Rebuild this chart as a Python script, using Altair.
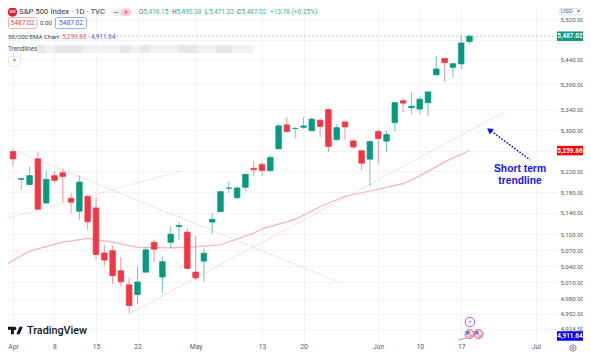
import altair as alt
import pandas as pd

days = list(range(-1, 56))
opens = [5248.03,
 5257.97,5204.29,5194.37,5244.05,5158.95,5211.37,5217.03,5167.88,5143.30,5171.51,
 5149.67,5064.59,5068.97,5031.52,5005.44,4987.33,5028.85,5084.65,5019.88,5084.65,
 5114.13,5103.78,
 5029.03,5049.32,5122.78,5142.42,5187.20,5168.98,5189.03,5225.49,
 5233.08,5221.10,5263.26,5310.07,5303.10,
 5305.35,5298.69,5319.28,5340.26,5281.45,
 5315.91,5278.73,5259.77,5243.21,
 5297.15,5278.24,5314.48,5357.80,5343.81,
 5341.22,5353.82,5409.13,5441.93,5424.08,
 5431.11,5476.15]
highs = [5264.85,
 5263.95,5208.34,5228.75,5256.59,5222.18,5219.57,5224.81,5178.43,5211.78,5175.03,
 5168.43,5079.84,5077.96,5056.66,5019.02,5038.84,5076.12,5089.48,5057.75,5114.62,
 5123.49,5110.83,
 5096.12,5073.21,5139.12,5181.00,5200.23,5191.95,5214.53,5239.66,
 5237.26,5250.37,5311.76,5325.49,5305.45,
 5325.32,5324.32,5323.18,5341.88,5311.65,
 5315.91,5282.26,5260.21,5280.33,
 5302.11,5298.80,5354.16,5362.35,5375.08,
 5365.79,5375.95,5447.25,5441.93,5432.39,
 5488.50,5490.38]
lows = [5245.82,
 5229.20,5184.05,5194.37,5146.06,5157.21,5197.35,5160.78,5138.70,5127.18,5107.94,
 5052.47,5039.83,5007.25,5001.89,4953.56,4969.40,5027.96,5047.02,4990.58,5073.14,
 5088.65,5035.31,
 5013.45,5011.05,5101.22,5142.42,5178.96,5165.86,5182.23,5209.68,
 5211.16,5217.98,5263.26,5296.19,5283.59,
 5302.40,5298.69,5286.01,5256.93,5278.39,
 5280.89,5262.70,5222.10,5191.68,
 5234.32,5257.63,5297.64,5335.36,5331.33,
 5331.52,5327.25,5409.13,5395.51,5403.75,
 5420.40,5471.32]
closes = [5254.35,
 5243.77,5205.81,5211.49,5147.21,5204.34,5202.39,5209.91,5160.64,5199.06,5123.41,
 5061.82,5051.41,5022.21,5011.12,4967.23,5010.60,5070.55,5071.63,5048.42,5099.96,
 5116.17,5035.69,
 5018.39,5064.20,5127.79,5180.74,5187.70,5187.67,5214.08,5222.68,
 5221.42,5246.68,5308.15,5297.10,5303.27,
 5308.13,5321.41,5307.01,5267.84,5304.72,
 5306.04,5266.95,5235.48,5277.51,
 5283.40,5291.34,5354.03,5352.96,5346.99,
 5360.79,5375.32,5421.03,5433.74,5431.60,
 5473.23,5487.02]

ema_days = [-1, 2, 6, 9, 12, 15, 19, 22, 25, 29, 30, 34, 37, 40, 43, 47, 49, 52, 55]
ema_vals = [5042, 5068, 5085, 5092, 5085, 5075, 5074, 5076, 5080, 5102, 5110, 5128, 5152, 5172, 5182, 5196, 5211, 5238, 5260]

trend_pink_a = ([-1.57, 20.12], [5126, 5220])
trend_pink_b = ([-1.33, 0.0], [5199, 5211.5])
trend_green = ([0.24, 39.04], [5260, 5012])
trend_pink_c = ([13.98, 59.04], [4952, 5334])
arrow_days = [62.3, 57.6]
arrow_vals = [5242, 5298]

x_ticks = [0, 5, 10, 15, 22, 30, 35, 44, 49, 54, 63]
x_labels = ["Apr", "8", "15", "22", "May", "13", "20", "Jun", "10", "17", "Jul"]
y_ticks = [5520, 5480, 5440, 5390, 5340, 5300, 5260, 5220, 5180, 5140, 5100, 5070, 5040, 5010, 4980, 4952, 4924.5]
price_tags = [(5487.02, "5,487.02", "#089981"), (5259.86, "5,259.86", "#ff0000"), (4911.64, "4,911.64", "#0000ff")]

GREEN, RED = "#089981", "#f23645"
FONT = "Roboto"
PW, PH = 549, 336

xs = alt.Scale(domain=[-0.602, 65.54], nice=False, zero=False, padding=0)
ys = alt.Scale(type="log", domain=[4897.1, 5544.5], nice=False)
one = pd.DataFrame({"a": [0]})

label_expr = "%s[indexof(%s, datum.value)]" % (x_labels, x_ticks)
y_label_expr = "datum.value == 5480 || datum.value == 5260 ? '' : format(datum.value, ',.2f')"
x_axis = alt.Axis(values=x_ticks, labelExpr=label_expr, grid=True, gridColor="#f1f3f8", domain=False, ticks=False,
                  labelFont=FONT, labelFontSize=6.8, labelColor="#555a66", labelPadding=-1, labelOverlap=False,
                  labelFlush=False, title=None)
y_axis = alt.Axis(orient="right", values=y_ticks, labelExpr=y_label_expr, grid=True, gridColor="#f1f3f8", domain=False,
                  ticks=False, labelFont=FONT, labelFontSize=6.2, labelColor="#555a66", labelPadding=3,
                  labelOverlap=False, labelFlush=False, title=None)


def X(f):
    return alt.X(f, type="quantitative", scale=xs, axis=x_axis)


def Y(f):
    return alt.Y(f, type="quantitative", scale=ys, axis=y_axis)


def line(dd, vv, color, width=0.9, dash=None, opacity=1.0):
    df = pd.DataFrame({"d": dd, "p": vv})
    kw = {"strokeDash": dash} if dash else {}
    return alt.Chart(df).mark_line(color=color, strokeWidth=width, opacity=opacity, clip=True, **kw).encode(
        x=X("d"), y=Y("p"))


def text(s, x, y, color="#333842", size=7.2, weight="normal", align="left", font=FONT):
    return alt.Chart(one).mark_text(text=s, color=color, fontSize=size, fontWeight=weight, align=align,
                                    baseline="middle", font=font).encode(
        x=alt.value(x - 8), y=alt.value(y - 8))


def box(x0, y0, x1, y1, fill="#ffffff", stroke=None, sw=1, radius=0, opacity=1.0):
    kw = {"stroke": stroke, "strokeWidth": sw} if stroke else {}
    return alt.Chart(one).mark_rect(color=fill, cornerRadius=radius, opacity=opacity, **kw).encode(
        x=alt.value(x0 - 8), x2=alt.value(x1 - 8), y=alt.value(y0 - 8), y2=alt.value(y1 - 8))


def dot(x, y, size, fill=None, stroke=None, sw=1.0, shape="circle", angle=0):
    kw = {}
    if fill:
        kw["fill"] = fill
    else:
        kw["fillOpacity"] = 0
    if stroke:
        kw["stroke"] = stroke
        kw["strokeWidth"] = sw
    else:
        kw["strokeWidth"] = 0
    return alt.Chart(one).mark_point(shape=shape, size=size, opacity=1, filled=bool(fill), angle=angle, **kw).encode(
        x=alt.value(x - 8), y=alt.value(y - 8))


candles = pd.DataFrame({"d": days, "o": opens, "h": highs, "l": lows, "c": closes})
candles["dir"] = ["up" if c >= o else "down" for o, c in zip(opens, closes)]
col = alt.Color("dir:N", scale=alt.Scale(domain=["up", "down"], range=[GREEN, RED]), legend=None)
wicks = alt.Chart(candles).mark_rule(strokeWidth=1, opacity=0.55, clip=True).encode(
    x=X("d"), y=Y("l"), y2=alt.Y2("h"), color=col)
bodies = alt.Chart(candles).mark_bar(size=5.6, strokeWidth=0.7, clip=True, orient="vertical").encode(
    x=X("d"), y=Y("o"), y2=alt.Y2("c"), color=col, stroke=alt.Stroke("dir:N", scale=alt.Scale(domain=["up", "down"], range=[GREEN, RED]), legend=None))

last_line = alt.Chart(pd.DataFrame({"p": [5487.02]})).mark_rule(
    color=GREEN, strokeWidth=0.8, strokeDash=[2, 2], opacity=0.5).encode(
    x=alt.value(0), x2=alt.value(PW), y=Y("p"))

layers = [line(*trend_pink_a, "#f7a8ae", 0.9, [2, 1.2], 0.6),
          line(*trend_pink_b, "#f7a8ae", 0.9, [2, 1.2], 0.6),
          line(*trend_green, "#a5d6a7", 0.9, [2, 1.2], 0.7),
          line(*trend_pink_c, "#f7a8ae", 0.9, [2, 1.2], 0.7),
          line(ema_days, ema_vals, "#fab2b2", 1.2),
          last_line, wicks, bodies,
          line(arrow_days, arrow_vals, "#1414f0", 1.6, [1.6, 1.6])]
layers.append(alt.Chart(pd.DataFrame({"d": [arrow_days[1] - 0.2], "p": [arrow_vals[1] + 2]}))
              .mark_point(shape="triangle-up", size=45, filled=True, color="#1414f0", opacity=1, angle=307)
              .encode(x=X("d"), y=Y("p")))
layers += [text("Short term", 520, 169, "#1414f0", 10.3, "bold", "center", "Liberation Sans"),
           text("trendline", 520, 181, "#1414f0", 10.3, "bold", "center", "Liberation Sans")]

# price tags on the right axis
for p, s, c in price_tags:
    layers.append(alt.Chart(pd.DataFrame({"p": [p]})).mark_rule(color=c, strokeWidth=9.5).encode(
        x=alt.value(PW), x2=alt.value(PW + 26), y=Y("p")))
    layers.append(alt.Chart(pd.DataFrame({"p": [p], "t": [s]})).mark_text(
        color="white", fontSize=6.4, font=FONT, fontWeight="bold", align="center", baseline="middle").encode(
        x=alt.value(PW + 13), y=Y("p"), text="t:N"))

# USD selector
layers += [box(559, 8.5, 582.5, 15, "#ffffff", "#d9dbe0", 0.8, 2),
           text("USD", 561, 11, "#555a66", 6.2),
           text("▾", 577, 11, "#777c88", 6)]

# header
layers += [dot(12.5, 12, 90, fill="#e01b2f"),
           text("500", 12.5, 12, "#ffffff", 3.4, "bold", "center"),
           text("S&P 500 Index · 1D · TVC", 19, 12, "#333842", 7.8),
           box(111, 8.5, 131, 16, "#eceef2", radius=4),
           box(121, 8.5, 131, 16, "#fbc9d6", radius=4),
           text("—", 116, 12, "#666a75", 6, "bold", "center"),
           text("✕", 126, 12, "#e0405f", 5, "bold", "center")]
for letter, lx, val, vx in [("O", 139, "5,476.15", 143.5), ("H", 172, "5,490.38", 176.5),
                            ("L", 205, "5,471.32", 209), ("C", 237, "5,487.02", 241.5)]:
    layers += [text(letter, lx, 12, "#555a66", 6.5), text(val, vx, 12, "#3bb39c", 6.5)]
layers += [text("+13.78 (+0.25%)", 270, 12, "#3bb39c", 6.5),
           box(8.5, 17.5, 37, 28.5, "#ffffff", "#f7a5ac", 0.9, 1.5),
           text("5487.02", 22.5, 23, "#f23645", 6.6, "normal", "center"),
           text("0.00", 46, 23, "#444852", 6.2, "normal", "center"),
           box(55.5, 17.5, 86.5, 28.5, "#ffffff", "#8da6f5", 0.9, 1.5),
           text("5487.02", 71, 23, "#2962ff", 6.6, "normal", "center"),
           text("50/200 EMA Chart", 8, 37, "#444852", 6.2),
           text("5,259.86", 62, 37, "#f4606c", 6.4),
           text("4,911.64", 91, 37, "#5a5af5", 6.4),
           text("Trendlines", 8, 49, "#444852", 6.4),
           box(37, 45, 253, 53, "#f1f1f2")]
for x0, x1 in [(37, 45), (55, 83), (120, 130), (140, 150), (178, 198), (216, 232)]:
    layers.append(box(x0, 45, x1, 53, "#e7e7e9"))
layers += [box(8.5, 56.5, 20.5, 66, "#ffffff", "#dfe1e6", 0.8, 2),
           text("^", 14.5, 62, "#444852", 7, "normal", "center")]

# watermark
tv_logo = ("M-0.222 0.444H-0.611V-0.167H-1V-0.556H-0.222ZM0.556 0.444H0.111L0.528 -0.556H0.972Z"
           "M0.111 -0.333A0.222 0.222 0 1 1 0.111 -0.334Z")
layers += [alt.Chart(one).mark_point(shape=tv_logo, size=225, filled=True, color="#131722", opacity=1).encode(
               x=alt.value(15.5 - 8), y=alt.value(331 - 8)),
           text("TradingView", 27, 330.5, "#131722", 10.8, 500)]

# event markers
layers += [dot(470, 322, 90, fill="#ffffff", stroke="#ab47bc", sw=0.9),
           text("⚡", 470, 322, "#ab47bc", 6, "normal", "center", "DejaVu Sans")]
for fx in (469.5, 478.5):
    layers += [dot(fx, 334, 80, fill="#fbd5d8", stroke="#ef5f6b", sw=1.0),
               box(fx - 3.5, 331, fx, 334.5, "#4f8fe8"),
               box(fx, 335.5, fx + 3.5, 336.5, "#ef5f6b")]
layers.append(alt.Chart(pd.DataFrame({"d": [53.6, 54.7], "p": [4904, 4908]})).mark_line(
    color="#8da6f5", strokeWidth=1).encode(x=X("d"), y=Y("p")))

# settings icon
layers += [dot(573, 348, 40, stroke="#666a75", sw=0.8),
           dot(573, 348, 6, stroke="#666a75", sw=0.8)]

chart = alt.layer(*layers).resolve_scale(color="independent", stroke="independent").properties(
    width=PW, height=PH,
    padding={"left": 0, "top": 0, "right": 26, "bottom": 12},
    autosize=alt.AutoSizeParams(type="none"),
    background="#ffffff",
).configure_view(stroke=None)

chart.save("out.html", embed_options={"renderer": "svg", "actions": False})
